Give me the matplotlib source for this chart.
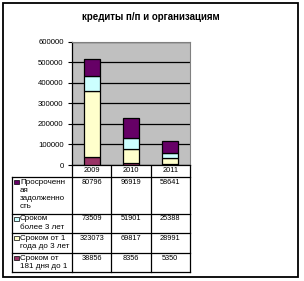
import matplotlib
matplotlib.use("Agg")
import matplotlib.pyplot as plt
import matplotlib.transforms as mtransforms
from matplotlib.patches import Rectangle

plt.rcParams['font.family'] = ['Liberation Sans', 'DejaVu Sans']

# data
years = ['2009', '2010', '2011']
overdue = [80796, 96919, 58641]       # Просроченная задолженность
over3 = [73509, 51901, 25388]         # Сроком более 3 лет
from1to3 = [323073, 69817, 28991]     # Сроком от 1 года до 3 лет
from181 = [38856, 8356, 5350]         # Сроком от 181 дня до 1 года

W, H = 304, 281
fig = plt.figure(figsize=(W / 100, H / 100), dpi=100)


def box(x0, y0, x1, y1):
    # pixel box -> figure fraction
    return [x0 / W, 1 - y1 / H, (x1 - x0) / W, (y1 - y0) / H]


# overlay in pixel coords for frame + data table
ov = fig.add_axes([0, 0, 1, 1])
ov.set_xlim(0, W)
ov.set_ylim(H, 0)
ov.axis('off')
ov.add_patch(Rectangle((3, 3), 295, 274, fill=False, ec='black', lw=1.3))

ax = fig.add_axes(box(72, 41.7, 190, 165))
ax.set_facecolor('#C0C0C0')
x = range(len(years))
series = [
    (from181, '#993366'),
    (from1to3, '#FFFFCC'),
    (over3, '#CCFFFF'),
    (overdue, '#660066'),
]
bottom = [0, 0, 0]
for vals, col in series:
    ax.bar(x, vals, 0.41, bottom=bottom, color=col, edgecolor='black', lw=0.9, zorder=3)
    bottom = [b + v for b, v in zip(bottom, vals)]

ax.set_xlim(-0.5, 2.5)
ax.set_ylim(0, 600000)
ax.set_yticks(range(0, 600001, 100000))
ax.set_yticklabels([str(v) for v in range(0, 600001, 100000)], fontsize=5.6)
ax.yaxis.grid(True, color='black', lw=0.9, zorder=1)
ax.set_xticks([])
ax.tick_params(axis='y', length=3, width=0.8, pad=3, direction='out')
for s in ['top', 'right']:
    ax.spines[s].set_color('#808080')
    ax.spines[s].set_linewidth(0.8)
ax.spines['left'].set_linewidth(0.9)
ax.spines['bottom'].set_linewidth(0.9)

fig.text(151 / W, 1 - 17 / H, 'кредиты п/п и организациям',
         ha='center', va='center', fontsize=7, fontweight='bold')

# data table
tr = mtransforms.blended_transform_factory(ax.transData, ov.transData)
col_edges = [72, 111.3, 150.7, 190]
row_lines = [177, 214, 233, 253, 272]
lw = 0.9
for cx in col_edges:
    ov.plot([cx, cx], [165, 272], color='black', lw=lw)
ov.plot([12, 12], [177, 272], color='black', lw=lw)
for ry in row_lines:
    ov.plot([12, 190], [ry, ry], color='black', lw=lw)
for i, yr in enumerate(years):
    ov.text(i, 171, yr, transform=tr, ha='center', va='center', fontsize=5.3)

rows = [
    (['Просроченн', 'ая', 'задолженно', 'сть'], overdue, '#660066'),
    (['Сроком', 'более 3 лет'], over3, '#CCFFFF'),
    (['Сроком от 1', 'года до 3 лет'], from1to3, '#FFFFCC'),
    (['Сроком от', '181 дня до 1'], from181, '#993366'),
]
for (lines, vals, col), top in zip(rows, row_lines[:-1]):
    ov.add_patch(Rectangle((14, top + 3), 4.5, 3.5, fc=col, ec='black', lw=0.5))
    for k, ln in enumerate(lines):
        ov.text(20, top + 5 + k * 8.3, ln, ha='left', va='center', fontsize=5.8)
    for i, v in enumerate(vals):
        ov.text(i, top + 5, str(v), transform=tr, ha='center', va='center', fontsize=5.3)

fig.savefig('out.png', dpi=100)
